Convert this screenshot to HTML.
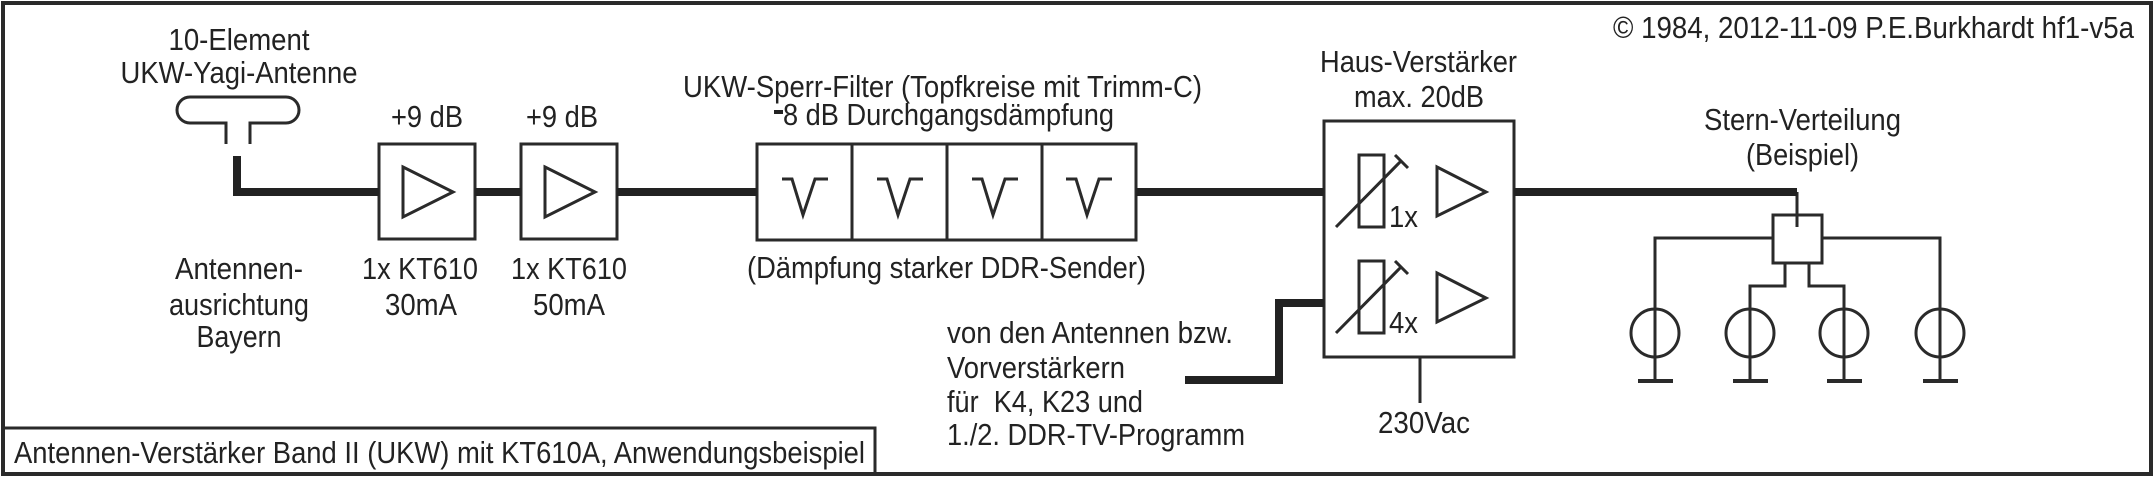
<!DOCTYPE html>
<html><head><meta charset="utf-8"><style>
html,body{margin:0;padding:0;background:#fff}
svg{display:block}
text{font-family:"Liberation Sans",sans-serif;font-size:31px;fill:#222}
</style></head><body>
<svg width="2154" height="477" viewBox="0 0 2154 477" xmlns="http://www.w3.org/2000/svg">
<rect x="0" y="0" width="2154" height="477" fill="#fff"/>
<g fill="none" stroke="#2a2a2a" stroke-width="3">
<rect x="3" y="3" width="2148" height="471" stroke-width="4"/>
<path d="M3 428 H875 V475"/>
<path d="M226 144 V123 H190 A13 13 0 0 1 190 97 H286 A13 13 0 0 1 286 123 H250 V144"/>
<rect x="379" y="144" width="96" height="95"/>
<path d="M403 167 L453 192 L403 217 Z"/>
<rect x="521" y="144" width="96" height="95"/>
<path d="M545 167 L595 192 L545 217 Z"/>
<rect x="757" y="144" width="379" height="96"/>
<path d="M852 144 V240 M947 144 V240 M1042 144 V240"/>
<path d="M782 179 H792 L803 215 L815 179 H828"/>
<path d="M877 179 H887 L898 215 L910 179 H923"/>
<path d="M972 179 H982 L993 215 L1005 179 H1018"/>
<path d="M1066 179 H1076 L1087 215 L1099 179 H1112"/>
<rect x="1324" y="121" width="190" height="236"/>
<rect x="1359" y="155" width="25" height="72"/>
<path d="M1336 227 L1402 160 M1395 155 L1408 168"/>
<path d="M1437 167 L1486 192 L1437 216 Z"/>
<rect x="1359" y="261" width="25" height="72"/>
<path d="M1336 333 L1402 266 M1395 261 L1408 274"/>
<path d="M1437 273 L1486 298 L1437 322 Z"/>
<path d="M1420 357 V403"/>
<path d="M1797 192 V227"/>
<rect x="1773" y="215" width="49" height="48"/>
<path d="M1773 238 H1655 V381 M1822 238 H1940 V381"/>
<path d="M1785 263 V286 H1750 V381 M1809 263 V286 H1844 V381"/>
<circle cx="1655" cy="333" r="24"/><circle cx="1750" cy="333" r="24"/>
<circle cx="1844" cy="333" r="24"/><circle cx="1940" cy="333" r="24"/>
<path d="M1638 381 H1673 M1733 381 H1768 M1827 381 H1862 M1923 381 H1958" stroke-width="4"/>
</g>
<g fill="none" stroke="#222" stroke-width="8">
<path d="M237 156 V192 H379 M475 192 H521 M617 192 H757 M1136 192 H1324 M1514 192 H1797"/>
<path d="M1185 380 H1279 V303 H1324"/>
</g>
<rect x="774" y="110" width="9" height="4" fill="#222"/>
<g>
<text x="239" y="50" text-anchor="middle" textLength="141" lengthAdjust="spacingAndGlyphs">10-Element</text>
<text x="239" y="83" text-anchor="middle" textLength="237" lengthAdjust="spacingAndGlyphs">UKW-Yagi-Antenne</text>
<text x="427" y="127" text-anchor="middle" textLength="72" lengthAdjust="spacingAndGlyphs">+9 dB</text>
<text x="562" y="127" text-anchor="middle" textLength="72" lengthAdjust="spacingAndGlyphs">+9 dB</text>
<text x="420" y="279" text-anchor="middle" textLength="116" lengthAdjust="spacingAndGlyphs">1x KT610</text>
<text x="421" y="315" text-anchor="middle" textLength="72" lengthAdjust="spacingAndGlyphs">30mA</text>
<text x="569" y="279" text-anchor="middle" textLength="116" lengthAdjust="spacingAndGlyphs">1x KT610</text>
<text x="569" y="315" text-anchor="middle" textLength="72" lengthAdjust="spacingAndGlyphs">50mA</text>
<text x="239" y="279" text-anchor="middle" textLength="128" lengthAdjust="spacingAndGlyphs">Antennen-</text>
<text x="239" y="315" text-anchor="middle" textLength="140" lengthAdjust="spacingAndGlyphs">ausrichtung</text>
<text x="239" y="347" text-anchor="middle" textLength="85" lengthAdjust="spacingAndGlyphs">Bayern</text>
<text x="683" y="97" textLength="519" lengthAdjust="spacingAndGlyphs">UKW-Sperr-Filter (Topfkreise mit Trimm-C)</text>
<text x="783" y="125" textLength="331" lengthAdjust="spacingAndGlyphs">8 dB Durchgangsdämpfung</text>
<text x="747" y="278" textLength="399" lengthAdjust="spacingAndGlyphs">(Dämpfung starker DDR-Sender)</text>
<text x="1320" y="72" textLength="197" lengthAdjust="spacingAndGlyphs">Haus-Verstärker</text>
<text x="1354" y="107" textLength="130" lengthAdjust="spacingAndGlyphs">max. 20dB</text>
<text x="1389" y="227" textLength="29" lengthAdjust="spacingAndGlyphs">1x</text>
<text x="1389" y="333" textLength="29" lengthAdjust="spacingAndGlyphs">4x</text>
<text x="1378" y="433" textLength="92" lengthAdjust="spacingAndGlyphs">230Vac</text>
<text x="947" y="343" textLength="286" lengthAdjust="spacingAndGlyphs">von den Antennen bzw.</text>
<text x="947" y="378" textLength="178" lengthAdjust="spacingAndGlyphs">Vorverstärkern</text>
<text x="947" y="412" textLength="196" lengthAdjust="spacingAndGlyphs">für&#160; K4, K23 und</text>
<text x="947" y="445" textLength="298" lengthAdjust="spacingAndGlyphs">1./2. DDR-TV-Programm</text>
<text x="1704" y="130" textLength="197" lengthAdjust="spacingAndGlyphs">Stern-Verteilung</text>
<text x="1746" y="165" textLength="113" lengthAdjust="spacingAndGlyphs">(Beispiel)</text>
<text x="1613" y="38" textLength="521" lengthAdjust="spacingAndGlyphs">© 1984, 2012-11-09 P.E.Burkhardt hf1-v5a</text>
<text x="14" y="463" textLength="851" lengthAdjust="spacingAndGlyphs">Antennen-Verstärker Band II (UKW) mit KT610A, Anwendungsbeispiel</text>
</g>
</svg>
</body></html>
